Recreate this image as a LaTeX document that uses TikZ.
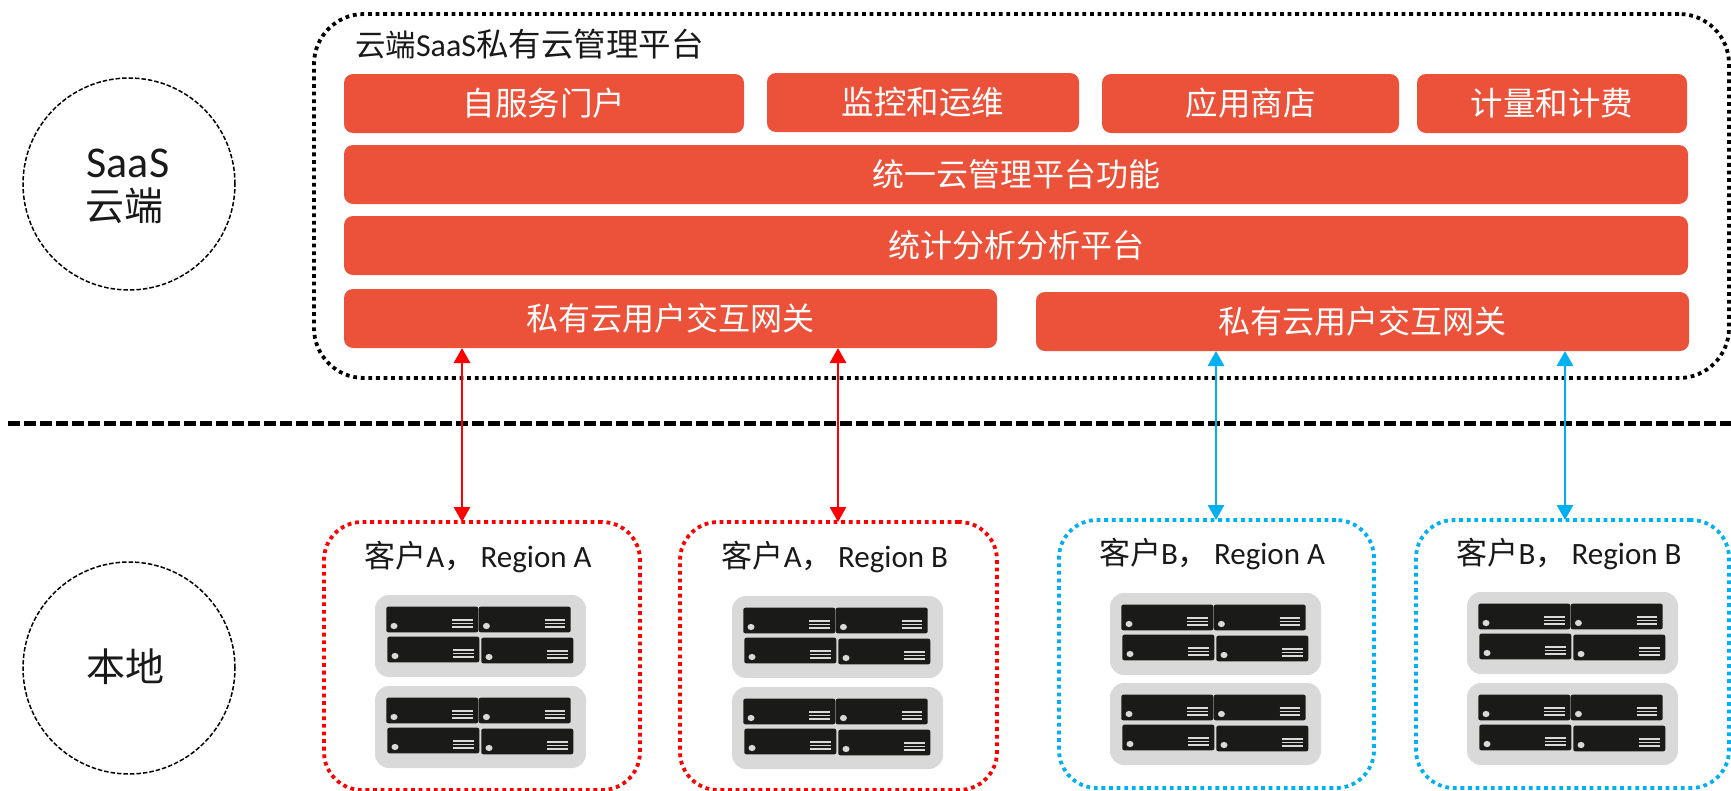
\documentclass[tikz,border=0pt]{standalone}
\usepackage{fontspec}
\setmainfont{Carlito}
\newfontfamily\cjk{Noto Sans CJK SC}
\usetikzlibrary{arrows.meta}
\definecolor{brick}{HTML}{EC5139}
\definecolor{sky}{HTML}{00B0F0}
\definecolor{rackgray}{HTML}{D9D9D9}
\definecolor{unitblack}{HTML}{1A1A18}
\newcommand{\fs}[1]{\fontsize{#1pt}{#1pt}\selectfont}
\tikzset{
  x=1pt,y=-1pt,
  brickbox/.style={fill=brick,rounded corners=9pt,inner sep=0pt,outer sep=0pt,text=white,font=\cjk\fs{32.5},anchor=north west},
  widebox/.style={brickbox,font=\cjk\fs{32}},
  dotbox/.style={draw,line width=3.8pt,dash pattern=on 3.8pt off 3.8pt,rounded corners=38pt,inner sep=0pt,outer sep=0pt,anchor=north west,minimum height=268pt},
  zonecircle/.style={circle,draw,line width=1.5pt,dash pattern=on 4.5pt off 2pt,minimum size=212pt,inner sep=0pt,outer sep=0pt},
  label/.style={inner sep=0pt,outer sep=0pt,font=\fs{31},text=black!90},
  link/.style={line width=2.8pt,{Triangle[width=16pt,length=15pt]}-{Triangle[width=16pt,length=15pt]}},
  unit/.pic={
    \fill[unitblack,rounded corners=2pt] (0,0) rectangle (92,25.6);
    \fill[rackgray] (7.7,19.3) ellipse (3.5pt and 3.1pt);
    \foreach \yy in {13.3,16.6,20.3} \draw[rackgray,line width=1.3pt] (66,\yy) -- (86.7,\yy);
  },
  rack/.pic={
    \fill[rackgray,rounded corners=14pt] (0,0) rectangle (211,82);
    \pic at (11.3,11.7) {unit};
    \pic at (103.7,11.7) {unit};
    \pic at (12.3,41.7) {unit};
    \pic at (106.3,42.7) {unit};
  },
}
\begin{document}
\begin{tikzpicture}
\useasboundingbox (0,0) rectangle (1731,790);
% zones
\node[zonecircle] (saas) at (129,184) {};
\node[zonecircle] (local) at (129,668) {};
\node[label,font=\fs{44}] (saastext) at (128,163) {SaaS};
\node[label,font=\cjk\fs{39}] (cloudtext) at (124,206) {云端};
\node[label,font=\cjk\fs{39}] (localtext) at (125,667) {本地};
% platform
\node[dotbox,minimum width=1415pt,minimum height=364pt,rounded corners=50pt] (cloud) at (314,14) {};
\node[label,anchor=west,font=\fs{32}] (title) at (355,44) {\cjk\fs{30.5}云端\rmfamily\fs{32}SaaS\cjk\fs{32.5}私有云管理平台};
\node[brickbox,minimum width=400pt,minimum height=59pt] (portal) at (344,74) {自服务门户};
\node[brickbox,minimum width=312pt,minimum height=59pt] (ops) at (767,73) {监控和运维};
\node[brickbox,minimum width=297pt,minimum height=59pt] (store) at (1102,74) {应用商店};
\node[brickbox,minimum width=270pt,minimum height=59pt] (bill) at (1417,74) {计量和计费};
\node[widebox,minimum width=1344pt,minimum height=59pt] (unified) at (344,145) {统一云管理平台功能};
\node[widebox,minimum width=1344pt,minimum height=59pt] (stats) at (344,216) {统计分析分析平台};
\node[widebox,minimum width=653pt,minimum height=59pt] (gwa) at (344,289) {私有云用户交互网关};
\node[widebox,minimum width=653pt,minimum height=59pt] (gwb) at (1036,292) {私有云用户交互网关};
% divider
\coordinate (divl) at (8,423);
\coordinate (divr) at (1731,423);
\draw[line width=5pt,dash pattern=on 12pt off 4pt] (divl) -- (divr);
% customer boxes
\node[dotbox,draw=red,minimum width=316pt] (ca) at (324,522) {};
\node[dotbox,draw=red,minimum width=317pt] (cb) at (680,522) {};
\node[dotbox,draw=sky,minimum width=315pt] (cc) at (1059,520) {};
\node[dotbox,draw=sky,minimum width=313pt] (cd) at (1416,520) {};
\node[label] (la) at (478,557) {\cjk 客户\rmfamily A\cjk ，\rmfamily\,Region A};
\node[label] (lb) at (835,557) {\cjk 客户\rmfamily A\cjk ，\rmfamily\,Region B};
\node[label] (lc) at (1212,554) {\cjk 客户\rmfamily B\cjk ，\rmfamily\,Region A};
\node[label] (ld) at (1569,554) {\cjk 客户\rmfamily B\cjk ，\rmfamily\,Region B};
% racks
\pic at (375,595) {rack};
\pic at (375,686) {rack};
\pic at (732,596) {rack};
\pic at (732,687) {rack};
\pic at (1110,593) {rack};
\pic at (1110,683) {rack};
\pic at (1467,592) {rack};
\pic at (1467,683) {rack};
% links
\coordinate (xa) at (462,0);
\coordinate (xb) at (838,0);
\coordinate (xc) at (1216,0);
\coordinate (xd) at (1565,0);
\draw[link,red] (gwa.south -| xa) -- (ca.north -| xa);
\draw[link,red] (gwa.south -| xb) -- (cb.north -| xb);
\draw[link,sky] (gwb.south -| xc) -- (cc.north -| xc);
\draw[link,sky] (gwb.south -| xd) -- (cd.north -| xd);
\end{tikzpicture}
\end{document}
